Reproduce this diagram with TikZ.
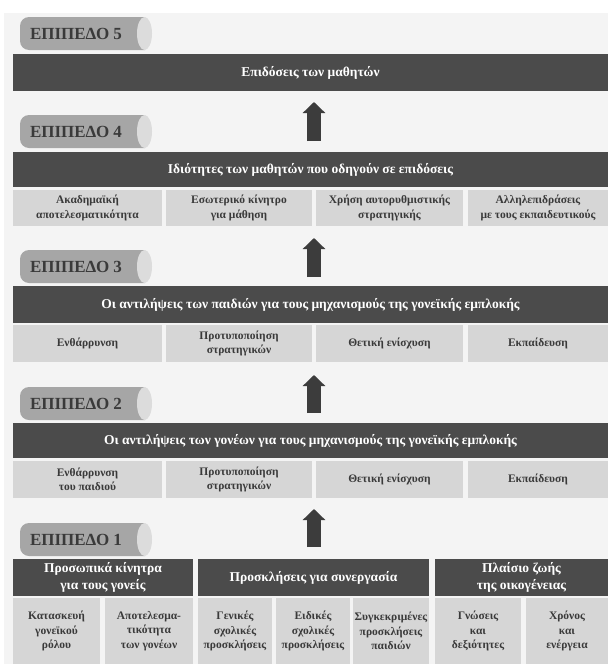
\documentclass[tikz,border=0pt]{standalone}
\usepackage{fontspec}
\setmainfont{Liberation Serif}
\usetikzlibrary{arrows.meta}
\definecolor{barc}{HTML}{4B4B4B}
\definecolor{boxc}{HTML}{D6D6D6}
\definecolor{tabc}{HTML}{A6A6A6}
\definecolor{capc}{HTML}{DCDCDC}
\definecolor{txtc}{HTML}{3A3A3A}
\definecolor{arrc}{HTML}{3C3C3C}
\definecolor{bgc}{HTML}{F4F4F4}
\tikzset{
  every node/.style={inner sep=0pt, outer sep=0pt},
  darkbar/.style={fill=barc, text=white, font=\bfseries\fontsize{13.5}{15}\selectfont, align=center, anchor=north west},
  darkbox/.style={fill=barc, text=white, font=\bfseries\fontsize{13.5}{16.5}\selectfont, align=center, anchor=north west},
  lightbox/.style={fill=boxc, text=txtc, font=\bfseries\fontsize{11.5}{14.5}\selectfont, align=center, anchor=north west},
  lvllabel/.style={text=txtc, font=\bfseries\fontsize{17}{18}\selectfont, anchor=west},
  blockarrow/.style={draw=arrc, line width=14pt, -{Triangle[width=22pt,length=11pt]}},
}
\newcommand{\lvltab}[3]{%
  \begin{scope}[yshift=-#2pt]
    \fill[tabc] (145,0) -- (29,0) arc[start angle=90,end angle=180,radius=9] -- (20,-24) arc[start angle=180,end angle=270,radius=9] -- (145,-33) -- cycle;
    \fill[capc] (144.5,-16.5) ellipse[x radius=7.5, y radius=16.5];
    \node[lvllabel] (#1) at (30,-16.5) {#3};
  \end{scope}}
\begin{document}
\begin{tikzpicture}[x=1pt,y=1pt]
\fill[white] (0,0) rectangle (608,-664);
\fill[bgc] (4,-13) rectangle (608,-664);

% Level 5
\lvltab{t5}{17}{ΕΠΙΠΕΔΟ 5}
\node[darkbar, minimum width=595pt, minimum height=37pt] (b5) at (13,-54) {Επιδόσεις των μαθητών};

% Level 4
\lvltab{t4}{115}{ΕΠΙΠΕΔΟ 4}
\node[darkbar, minimum width=595pt, minimum height=35pt] (b4) at (13,-152) {Ιδιότητες των μαθητών που οδηγούν σε επιδόσεις};
\node[lightbox, minimum width=149pt, minimum height=36pt] (b4a) at (13,-190) {Ακαδημαϊκή\\αποτελεσματικότητα};
\node[lightbox, minimum width=146pt, minimum height=36pt] (b4b) at (166,-190) {Εσωτερικό κίνητρο\\για μάθηση};
\node[lightbox, minimum width=147pt, minimum height=36pt] (b4c) at (316,-190) {Χρήση αυτορυθμιστικής\\στρατηγικής};
\node[lightbox, minimum width=140pt, minimum height=36pt] (b4d) at (468,-190) {Αλληλεπιδράσεις\\με τους εκπαιδευτικούς};

% Level 3
\lvltab{t3}{250}{ΕΠΙΠΕΔΟ 3}
\node[darkbar, minimum width=595pt, minimum height=37pt] (b3) at (13,-286) {Οι αντιλήψεις των παιδιών για τους μηχανισμούς της γονεϊκής εμπλοκής};
\node[lightbox, minimum width=149pt, minimum height=37pt] (b3a) at (13,-325) {Ενθάρρυνση};
\node[lightbox, minimum width=146pt, minimum height=37pt] (b3b) at (166,-325) {Προτυποποίηση\\στρατηγικών};
\node[lightbox, minimum width=147pt, minimum height=37pt] (b3c) at (316,-325) {Θετική ενίσχυση};
\node[lightbox, minimum width=140pt, minimum height=37pt] (b3d) at (468,-325) {Εκπαίδευση};

% Level 2
\lvltab{t2}{387}{ΕΠΙΠΕΔΟ 2}
\node[darkbar, minimum width=595pt, minimum height=35pt] (b2) at (13,-423) {Οι αντιλήψεις των γονέων για τους μηχανισμούς της γονεϊκής εμπλοκής};
\node[lightbox, minimum width=149pt, minimum height=37pt] (b2a) at (13,-461) {Ενθάρρυνση\\του παιδιού};
\node[lightbox, minimum width=146pt, minimum height=37pt] (b2b) at (166,-461) {Προτυποποίηση\\στρατηγικών};
\node[lightbox, minimum width=147pt, minimum height=37pt] (b2c) at (316,-461) {Θετική ενίσχυση};
\node[lightbox, minimum width=140pt, minimum height=37pt] (b2d) at (468,-461) {Εκπαίδευση};

% Level 1
\lvltab{t1}{523}{ΕΠΙΠΕΔΟ 1}
\node[darkbox, minimum width=180pt, minimum height=37pt] (d1) at (13,-559) {Προσωπικά κίνητρα\\για τους γονείς};
\node[darkbox, minimum width=231pt, minimum height=37pt] (d2) at (198,-559) {Προσκλήσεις για συνεργασία};
\node[darkbox, minimum width=173pt, minimum height=37pt] (d3) at (435,-559) {Πλαίσιο ζωής\\της οικογένειας};
\node[lightbox, minimum width=87pt, minimum height=66pt] (l1) at (13,-598) {Κατασκευή\\γονεϊκού\\ρόλου};
\node[lightbox, minimum width=88pt, minimum height=66pt] (l2) at (105,-598) {Αποτελεσμα-\\τικότητα\\των γονέων};
\node[lightbox, minimum width=74pt, minimum height=66pt] (l3) at (198,-598) {Γενικές\\σχολικές\\προσκλήσεις};
\node[lightbox, minimum width=74pt, minimum height=66pt] (l4) at (276,-598) {Ειδικές\\σχολικές\\προσκλήσεις};
\node[lightbox, minimum width=76pt, minimum height=66pt] (l5) at (353,-598) {Συγκεκριμένες\\προσκλήσεις\\παιδιών};
\node[lightbox, minimum width=86pt, minimum height=66pt] (l6) at (435,-598) {Γνώσεις\\και\\δεξιότητες};
\node[lightbox, minimum width=82pt, minimum height=66pt] (l7) at (526,-598) {Χρόνος\\και\\ενέργεια};

% Arrows
\coordinate (a1s) at (314,-141); \coordinate (a1e) at (314,-102);
\coordinate (a2s) at (314,-277); \coordinate (a2e) at (314,-238);
\coordinate (a3s) at (314,-413); \coordinate (a3e) at (314,-375);
\coordinate (a4s) at (314,-547); \coordinate (a4e) at (314,-509);
\draw[blockarrow] (a1s) -- (a1e);
\draw[blockarrow] (a2s) -- (a2e);
\draw[blockarrow] (a3s) -- (a3e);
\draw[blockarrow] (a4s) -- (a4e);
\end{tikzpicture}
\end{document}
